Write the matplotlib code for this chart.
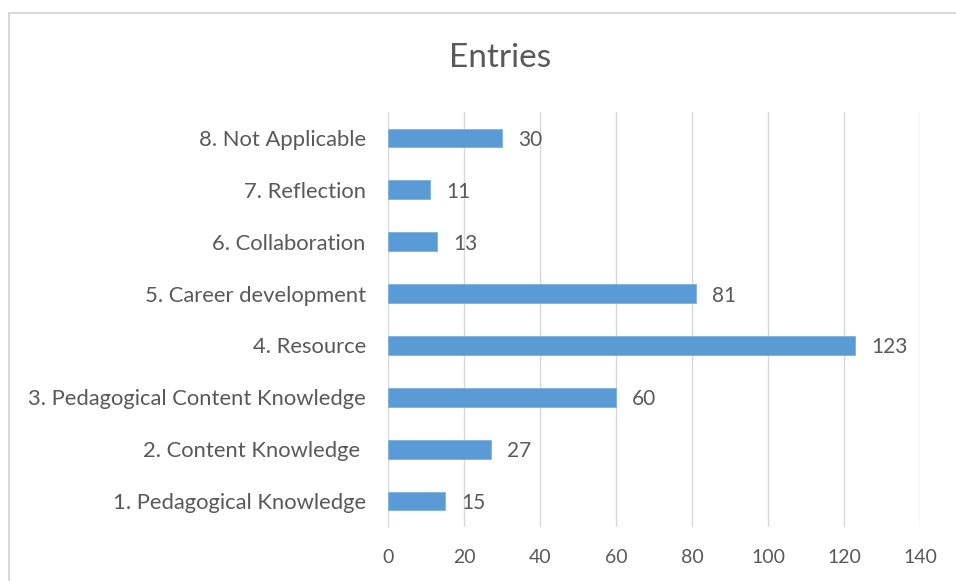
import matplotlib.pyplot as plt
from matplotlib.patches import Rectangle

# datos
categorias = ["1. Pedagogical Knowledge", "2. Content Knowledge ",
              "3. Pedagogical Content Knowledge", "4. Resource",
              "5. Career development", "6. Collaboration",
              "7. Reflection", "8. Not Applicable"]
entradas = [15, 27, 60, 123, 81, 13, 11, 30]
ticks_x = [0, 20, 40, 60, 80, 100, 120, 140]

gris = "#595959"
azul = "#5B9BD5"

plt.rcParams["font.family"] = ["Lato", "DejaVu Sans"]

W, H = 956, 581
fig = plt.figure(figsize=(W / 100, H / 100), dpi=100)

# marco del grafico
fig.patches.append(Rectangle((9 / W, -0.1), 1.2, 1.1 - 13 / H,
                             transform=fig.transFigure, fill=False,
                             edgecolor="#d9d9d9", linewidth=1.5))

ax = fig.add_axes([388 / W, 1 - 527 / H, (920 - 388) / W, (527 - 112) / H])

pos = range(len(categorias))
ax.barh(pos, entradas, height=0.36, color=azul, edgecolor="#7fb1e0",
        linewidth=0.6, zorder=3)
for p, v in zip(pos, entradas):
    ax.text(v + 4.3, p, str(v), va="center_baseline", ha="left",
            fontsize=15, color=gris)

ax.set_xlim(0, 140)
ax.set_ylim(-0.5, len(categorias) - 0.5)
ax.set_xticks(ticks_x)
ax.set_yticks(list(pos))
ax.set_yticklabels(categorias, fontsize=15.8)
ax.tick_params(axis="both", length=0, labelcolor=gris)
ax.tick_params(axis="x", pad=16, labelsize=14)
ax.tick_params(axis="y", pad=16)
ax.grid(axis="x", color="#d9d9d9", linewidth=1, zorder=0)
for s in ["top", "right", "bottom"]:
    ax.spines[s].set_visible(False)
ax.spines["left"].set_color("#d9d9d9")

fig.text(500 / W, 1 - 58 / H, "Entries", ha="center", va="center",
         fontsize=24, color=gris)

fig.savefig("out.png", dpi=100)
